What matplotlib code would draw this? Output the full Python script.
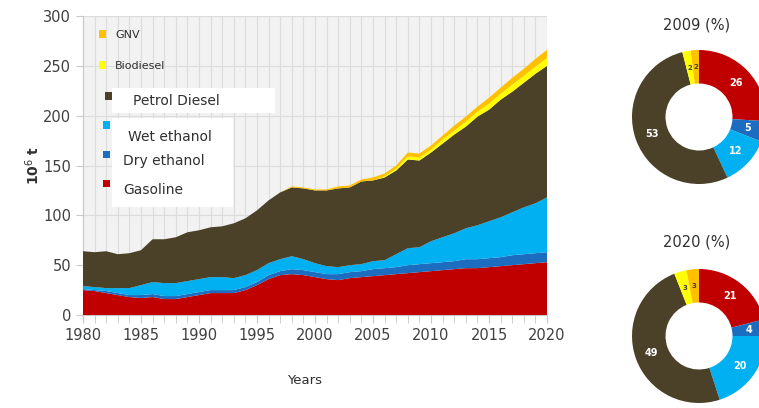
import matplotlib
matplotlib.use("Agg")
import matplotlib.pyplot as plt
import numpy as np
from matplotlib.patches import Rectangle

W, H = 759, 408

years = list(range(1980, 2021))
gasoline = [25, 24, 22, 20, 18, 17, 18, 16, 16, 18,
            20, 22, 22, 22, 25, 30, 36, 40, 41, 40,
            38, 36, 35, 37, 38, 39, 40, 41, 42, 43,
            44, 45, 46, 47, 47, 48, 49, 50, 51, 52, 53]
dry_ethanol = [1, 1, 2, 2, 2, 3, 3, 3, 3, 3,
               3, 3, 3, 3, 3, 3, 4, 4, 5, 5,
               5, 5, 6, 6, 6, 7, 7, 7, 8, 8,
               8, 8, 8, 9, 9, 9, 9, 10, 10, 10, 10]
wet_ethanol = [3, 3, 3, 5, 7, 10, 12, 13, 13, 13,
               13, 13, 13, 12, 12, 12, 12, 12, 13, 11,
               9, 8, 7, 7, 7, 8, 8, 13, 17, 17,
               22, 25, 28, 31, 34, 37, 40, 43, 47, 50, 55]
petrol_diesel = [35, 35, 37, 34, 35, 35, 43, 44, 46, 49,
                 49, 50, 51, 55, 57, 60, 63, 67, 69, 71,
                 73, 76, 79, 78, 83, 81, 83, 84, 89, 87,
                 89, 94, 99, 102, 109, 112, 118, 121, 125, 130, 132]
biodiesel = [0] * 26 + [1, 2, 3, 3,
                        3, 4, 4, 5, 5, 6, 6, 7, 7, 7, 8]
gnv = [0] * 18 + [1, 1,
                  1, 1, 2, 2, 2, 3, 3, 3, 4, 4,
                  4, 4, 5, 5, 5, 6, 6, 7, 7, 8, 8]

names = ["Gasoline", "Dry ethanol", "Wet ethanol", "Petrol Diesel", "Biodiesel", "GNV"]
colors = ["#c00000", "#1c6cc0", "#00b0f0", "#4b4129", "#ffff00", "#ffc000"]

share_2009 = [26, 5, 12, 53, 2, 2]
share_2020 = [21, 4, 20, 49, 3, 3]


def px(x, y):
    return x / W, 1 - y / H


fig = plt.figure(figsize=(W / 100, H / 100), dpi=100)
plt.rcParams['font.family'] = ['DejaVu Sans']

# main stacked area chart
l, t = px(83, 16)
r, b = px(547, 315)
ax = fig.add_axes([l, b, r - l, t - b])
ax.set_facecolor("#f2f2f2")
ax.stackplot(years, gasoline, dry_ethanol, wet_ethanol, petrol_diesel, biodiesel, gnv,
             colors=colors, linewidth=0, zorder=3)
ax.set_xlim(1980, 2020)
ax.set_ylim(0, 300)
ax.set_xticks(range(1980, 2021, 5))
ax.set_xticks(range(1980, 2021), minor=True)
ax.set_yticks(range(0, 301, 50))
ax.grid(True, which="both", axis="x", color="#dcdcdc", linewidth=0.8, zorder=0)
ax.grid(True, which="major", axis="y", color="#dcdcdc", linewidth=0.8, zorder=0)
for s in ["top", "right"]:
    ax.spines[s].set_visible(False)
for s in ["left", "bottom"]:
    ax.spines[s].set_color("#c8c8c8")
ax.tick_params(axis="both", which="both", direction="out", color="#c8c8c8",
               labelsize=10.5, labelcolor="#404040")
ax.tick_params(axis="x", which="both", length=6)
ax.tick_params(axis="y", length=5)

fig.text(*px(33, 165), "10$^6$ t", rotation=90, ha="center", va="center",
         fontsize=10, fontweight="bold", color="#303030")
fig.text(*px(305, 381), "Years", ha="center", va="center", fontsize=9.5, color="#303030")

# legend drawn by hand, like the picture
def box(x0, y0, x1, y1):
    fig.add_artist(Rectangle(px(x0, y1), (x1 - x0) / W, (y1 - y0) / H,
                             transform=fig.transFigure, facecolor="white",
                             edgecolor="none", zorder=5))

box(112, 88, 275, 113)
box(112, 118, 233, 207)

legend_rows = [
    # name, square x, square y, text x, text y, size
    ("GNV", 102, 34, 115, 35, 8),
    ("Biodiesel", 102, 65, 115, 66, 8),
    ("Petrol Diesel", 108, 96, 133, 101, 10),
    ("Wet ethanol", 107, 125, 128, 137, 10),
    ("Dry ethanol", 107, 155, 123, 161, 10),
    ("Gasoline", 107, 184, 123, 190, 10),
]
order = ["GNV", "Biodiesel", "Petrol Diesel", "Wet ethanol", "Dry ethanol", "Gasoline"]
for name, sx, sy, tx, ty, fs in legend_rows:
    c = colors[names.index(name)]
    fig.add_artist(Rectangle(px(sx - 3.5, sy + 3.5), 7 / W, 7 / H,
                             transform=fig.transFigure, facecolor=c,
                             edgecolor="none", zorder=6))
    fig.text(*px(tx, ty), name, ha="left", va="center", fontsize=fs,
             color="#303030", zorder=7)


# donuts
def donut(cx, cy, rad, shares, title, ty):
    x0, y1 = px(cx - rad, cy + rad)
    dax = fig.add_axes([x0, y1, 2 * rad / W, 2 * rad / H])
    wedges, _ = dax.pie(shares, colors=colors, startangle=90, counterclock=False,
                        radius=1, wedgeprops=dict(width=0.5, edgecolor="none"))
    dax.set_xlim(-1, 1)
    dax.set_ylim(-1, 1)
    dax.set_aspect("equal")
    dax.axis("off")
    start = 90
    for v, name in zip(shares, names):
        ang = np.deg2rad(start - v * 3.6 / 2)
        start -= v * 3.6
        small = v < 4
        dax.text(0.75 * np.cos(ang), 0.75 * np.sin(ang), str(v), ha="center",
                 va="center", fontsize=5 if small else 7,
                 color="#404040" if small else "white", fontweight="bold")
    fig.text(*px(cx - 2, ty), title, ha="center", va="center", fontsize=10.5,
             color="#303030")

donut(699, 117, 67, share_2009, "2009 (%)", 25)
donut(699, 336, 67, share_2020, "2020 (%)", 242)

fig.savefig("out.png", dpi=100)
